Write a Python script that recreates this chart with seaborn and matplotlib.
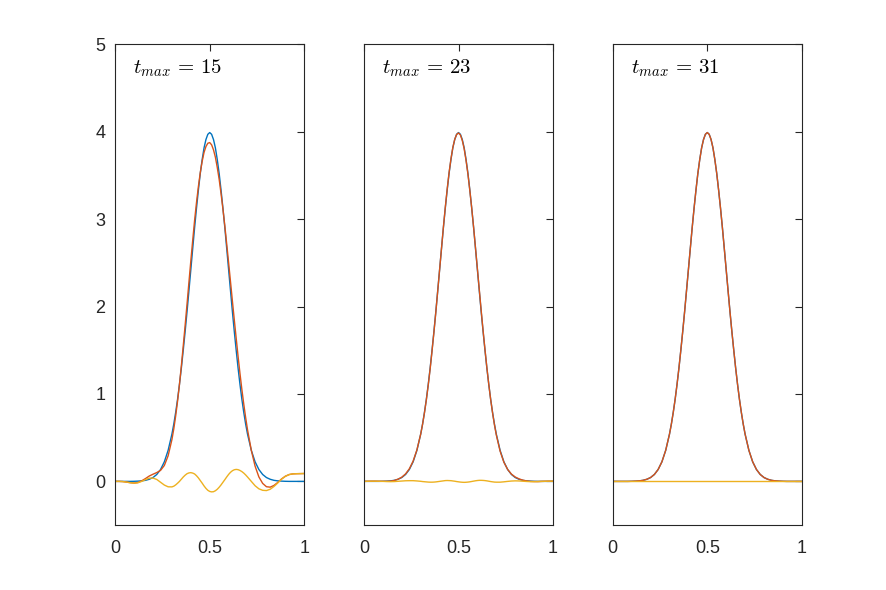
import numpy as np
import pandas as pd
import matplotlib
matplotlib.use("Agg")
import matplotlib.pyplot as plt
import seaborn as sns

# ---------------- data ----------------
x = [0.00, 0.02, 0.04, 0.06, 0.08, 0.10, 0.12, 0.14, 0.16, 0.18,
     0.20, 0.22, 0.24, 0.26, 0.28, 0.30, 0.31, 0.32, 0.33, 0.34,
     0.35, 0.36, 0.37, 0.38, 0.39, 0.40, 0.41, 0.42, 0.43, 0.44,
     0.45, 0.46, 0.47, 0.48, 0.49, 0.50, 0.51, 0.52, 0.53, 0.54,
     0.55, 0.56, 0.57, 0.58, 0.59, 0.60, 0.61, 0.62, 0.63, 0.64,
     0.65, 0.66, 0.67, 0.68, 0.69, 0.70, 0.72, 0.74, 0.76, 0.78,
     0.80, 0.82, 0.84, 0.86, 0.88, 0.90, 0.92, 0.94, 0.96, 0.98, 1.00]

# exact solution (blue)
exact = [0.000, 0.000, 0.000, 0.000, 0.000, 0.001, 0.003, 0.006, 0.012, 0.024,
         0.044, 0.079, 0.136, 0.224, 0.355, 0.540, 0.656, 0.790, 0.940, 1.110,
         1.296, 1.500, 1.714, 1.940, 2.179, 2.420, 2.661, 2.900, 3.123, 3.330,
         3.521, 3.680, 3.815, 3.910, 3.970, 3.990, 3.970, 3.910, 3.815, 3.680,
         3.521, 3.330, 3.123, 2.900, 2.661, 2.420, 2.179, 1.940, 1.714, 1.500,
         1.296, 1.110, 0.940, 0.790, 0.656, 0.540, 0.355, 0.224, 0.136, 0.079,
         0.044, 0.024, 0.012, 0.006, 0.003, 0.001, 0.000, 0.000, 0.000, 0.000, 0.000]

# t_max = 15 : approximation (orange) and error (yellow)
approx15 = [0.000, 0.000, -0.002, -0.008, -0.015, -0.019, -0.013, 0.006, 0.032, 0.061,
            0.082, 0.101, 0.126, 0.182, 0.293, 0.477, 0.601, 0.750, 0.919, 1.110,
            1.321, 1.550, 1.785, 2.028, 2.276, 2.520, 2.756, 2.985, 3.188, 3.370,
            3.531, 3.660, 3.763, 3.830, 3.868, 3.875, 3.850, 3.792, 3.708, 3.590,
            3.454, 3.290, 3.113, 2.920, 2.712, 2.500, 2.283, 2.062, 1.847, 1.637,
            1.430, 1.235, 1.052, 0.885, 0.730, 0.590, 0.355, 0.174, 0.051, -0.023,
            -0.061, -0.066, -0.046, -0.012, 0.028, 0.059, 0.078, 0.086, 0.088, 0.089, 0.090]
error15 = [0.000, 0.000, -0.002, -0.008, -0.015, -0.020, -0.016, 0.000, 0.020, 0.037,
           0.038, 0.022, -0.010, -0.042, -0.062, -0.063, -0.055, -0.040, -0.021, 0.000,
           0.025, 0.050, 0.071, 0.088, 0.097, 0.100, 0.095, 0.085, 0.065, 0.040,
           0.010, -0.020, -0.052, -0.080, -0.102, -0.115, -0.120, -0.118, -0.107, -0.090,
           -0.067, -0.040, -0.010, 0.020, 0.051, 0.080, 0.104, 0.122, 0.133, 0.137,
           0.134, 0.125, 0.112, 0.095, 0.074, 0.050, 0.000, -0.050, -0.085, -0.102,
           -0.105, -0.090, -0.058, -0.018, 0.025, 0.058, 0.078, 0.086, 0.088, 0.089, 0.090]

# t_max = 23
approx23 = [0.000, 0.001, 0.002, 0.002, 0.001, 0.001, 0.001, 0.003, 0.010, 0.025,
            0.048, 0.086, 0.144, 0.232, 0.360, 0.541, 0.654, 0.786, 0.934, 1.102,
            1.287, 1.491, 1.706, 1.934, 2.176, 2.420, 2.664, 2.906, 3.132, 3.340,
            3.530, 3.688, 3.820, 3.912, 3.968, 3.985, 3.962, 3.900, 3.804, 3.670,
            3.513, 3.325, 3.122, 2.903, 2.668, 2.430, 2.191, 1.952, 1.725, 1.509,
            1.302, 1.112, 0.938, 0.785, 0.648, 0.531, 0.346, 0.219, 0.136, 0.083,
            0.050, 0.029, 0.014, 0.005, 0.000, -0.002, -0.002, 0.000, 0.001, 0.002, 0.002]
error23 = [0.000, 0.001, 0.002, 0.002, 0.001, 0.000, -0.002, -0.003, -0.002, 0.001,
           0.004, 0.007, 0.008, 0.008, 0.005, 0.001, -0.002, -0.004, -0.006, -0.008,
           -0.009, -0.009, -0.008, -0.006, -0.003, 0.000, 0.003, 0.006, 0.009, 0.010,
           0.009, 0.008, 0.005, 0.002, -0.002, -0.005, -0.008, -0.010, -0.011, -0.010,
           -0.008, -0.005, -0.001, 0.003, 0.007, 0.010, 0.012, 0.012, 0.011, 0.009,
           0.006, 0.002, -0.002, -0.005, -0.008, -0.009, -0.009, -0.005, 0.000, 0.004,
           0.006, 0.005, 0.002, -0.001, -0.003, -0.003, -0.002, 0.000, 0.001, 0.002, 0.002]

# t_max = 31
approx31 = [0.000, 0.000, 0.000, 0.000, 0.000, 0.001, 0.003, 0.006, 0.012, 0.024,
            0.044, 0.079, 0.136, 0.224, 0.355, 0.540, 0.656, 0.790, 0.940, 1.110,
            1.296, 1.500, 1.714, 1.940, 2.179, 2.420, 2.661, 2.900, 3.123, 3.330,
            3.521, 3.680, 3.815, 3.910, 3.970, 3.990, 3.970, 3.910, 3.815, 3.680,
            3.521, 3.330, 3.123, 2.900, 2.661, 2.420, 2.179, 1.940, 1.714, 1.500,
            1.296, 1.110, 0.940, 0.790, 0.656, 0.540, 0.355, 0.224, 0.136, 0.079,
            0.044, 0.024, 0.012, 0.006, 0.003, 0.001, 0.000, 0.000, 0.000, 0.000, 0.000]
error31 = [0.000, 0.000, 0.000, 0.000, 0.000, 0.000, 0.000, 0.000, 0.000, 0.000,
           0.000, 0.000, 0.000, 0.000, 0.000, 0.000, 0.000, 0.000, 0.000, 0.000,
           0.000, 0.000, 0.000, 0.000, 0.000, 0.000, 0.000, 0.000, 0.000, 0.000,
           0.000, 0.000, 0.000, 0.000, 0.000, 0.000, 0.000, 0.000, 0.000, 0.000,
           0.000, 0.000, 0.000, 0.000, 0.000, 0.000, 0.000, 0.000, 0.000, 0.000,
           0.000, 0.000, 0.000, 0.000, 0.000, 0.000, 0.000, 0.000, 0.000, 0.000,
           0.000, 0.000, 0.000, 0.000, 0.000, 0.000, 0.000, 0.000, 0.000, 0.000, 0.000]

tmax_values = [15, 23, 31]
approximations = [approx15, approx23, approx31]
errors = [error15, error23, error31]

xtick_vals = [0, 0.5, 1]
xtick_labels = ["0", "0.5", "1"]
ytick_vals = [0, 1, 2, 3, 4, 5]
ytick_labels = ["0", "1", "2", "3", "4", "5"]

series_order = ["exact", "approx", "error"]
palette = {"exact": "#0072BD", "approx": "#D95319", "error": "#EDB120"}

# ---------------- style ----------------
sns.set_style("white")
plt.rcParams["font.family"] = ["Liberation Sans", "DejaVu Sans"]
plt.rcParams["mathtext.fontset"] = "cm"

fig = plt.figure(figsize=(8.86, 5.90), dpi=100)
positions = [[0.1300, 0.1100, 0.2134, 0.8150],
             [0.4108, 0.1100, 0.2134, 0.8150],
             [0.6916, 0.1100, 0.2134, 0.8150]]

axcolor = "#262626"
for k, (tm, ap, er) in enumerate(zip(tmax_values, approximations, errors)):
    ax = fig.add_axes(positions[k])
    df = pd.DataFrame({
        "x": x * 3,
        "y": exact + ap + er,
        "series": ["exact"] * len(x) + ["approx"] * len(x) + ["error"] * len(x),
    })
    sns.lineplot(data=df, x="x", y="y", hue="series", hue_order=series_order,
                 palette=palette, legend=False, ax=ax, sort=False,
                 estimator=None, linewidth=1.0)
    ax.set_xlim(0, 1)
    ax.set_ylim(-0.5, 5)
    ax.set_xticks(xtick_vals)
    ax.set_xticklabels(xtick_labels)
    ax.set_yticks(ytick_vals)
    if k == 0:
        ax.set_yticklabels(ytick_labels)
    else:
        ax.set_yticklabels([])
    ax.set_xlabel("")
    ax.set_ylabel("")
    ax.tick_params(direction="in", top=True, right=True, length=5, width=0.8,
                   colors=axcolor, labelsize=13)
    ax.tick_params(axis="x", pad=11)
    ax.tick_params(axis="y", pad=7)
    for sp in ax.spines.values():
        sp.set_visible(True)
        sp.set_color(axcolor)
        sp.set_linewidth(0.8)
    ax.text(0.095, 4.73, r"$t_{max}\,=\,%d$" % tm, fontsize=15, ha="left",
            va="center", color="black")

fig.savefig("out.png", dpi=100)
